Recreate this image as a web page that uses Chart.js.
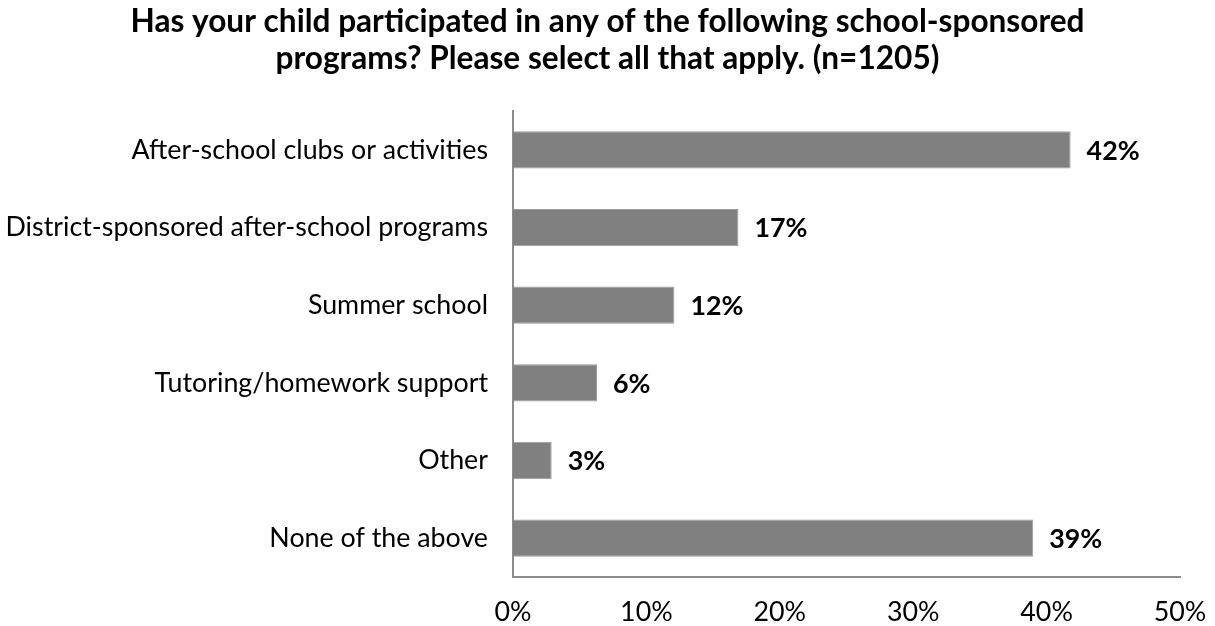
<!DOCTYPE html>
<html>
<head>
<meta charset="utf-8">
<script src="https://cdn.jsdelivr.net/npm/chart.js@4/dist/chart.umd.min.js"></script>
<style>
html,body{margin:0;padding:0;background:#fff;}
#wrap{width:1215px;height:626px;}
</style>
</head>
<body>
<div id="wrap"><canvas id="c" width="1215" height="626"></canvas></div>
<script>
const categories = [
  "After-school clubs or activities",
  "District-sponsored after-school programs",
  "Summer school",
  "Tutoring/homework support",
  "Other",
  "None of the above"
];
const values = [41.8, 16.9, 12.1, 6.3, 2.9, 39.0];
const valueLabels = ["42%", "17%", "12%", "6%", "3%", "39%"];
const xTicks = [0, 10, 20, 30, 40, 50];
const titleLines = [
  "Has your child participated in any of the following school-sponsored",
  "programs? Please select all that apply. (n=1205)"
];

const dataLabelPlugin = {
  id: 'dataLabels',
  afterDatasetsDraw(chart) {
    const ctx = chart.ctx;
    const meta = chart.getDatasetMeta(0);
    ctx.save();
    ctx.font = 'bold 26.8px Lato';
    ctx.fillStyle = '#000';
    ctx.textAlign = 'left';
    ctx.textBaseline = 'middle';
    meta.data.forEach((bar, i) => {
      ctx.fillText(valueLabels[i], bar.x + 16, bar.y + 1);
    });
    ctx.restore();
  }
};

new Chart(document.getElementById('c'), {
  type: 'bar',
  data: {
    labels: categories,
    datasets: [{
      data: values,
      backgroundColor: '#808080',
      borderColor: '#9a9a9a',
      borderWidth: 1,
      categoryPercentage: 1,
      barPercentage: 0.48
    }]
  },
  options: {
    indexAxis: 'y',
    responsive: false,
    animation: false,
    layout: { padding: 0 },
    plugins: {
      legend: { display: false },
      tooltip: { enabled: false },
      title: {
        display: true,
        text: titleLines,
        color: '#000',
        font: { family: 'Lato', size: 31.6, weight: 'bold', lineHeight: 1.17 },
        padding: { top: 3.5, bottom: 33.6 }
      }
    },
    scales: {
      x: {
        min: 0, max: 50,
        afterBuildTicks(scale) { scale.ticks = xTicks.map(v => ({ value: v })); },
        afterFit(scale) { scale.height = 49; scale.paddingRight = 35; scale.paddingLeft = 0; },
        grid: { display: false, drawTicks: false },
        border: { display: true, color: '#8c8c8c', width: 2 },
        ticks: {
          color: '#000',
          padding: 19,
          font: { family: 'Lato', size: 26.8 },
          callback: v => v + '%'
        }
      },
      y: {
        afterFit(scale) { scale.width = 513; },
        grid: { display: false, drawTicks: false },
        border: { display: true, color: '#8c8c8c', width: 2 },
        ticks: {
          color: '#000',
          padding: 25,
          font: { family: 'Lato', size: 26.8 }
        }
      }
    }
  },
  plugins: [dataLabelPlugin]
});
</script>
</body>
</html>
